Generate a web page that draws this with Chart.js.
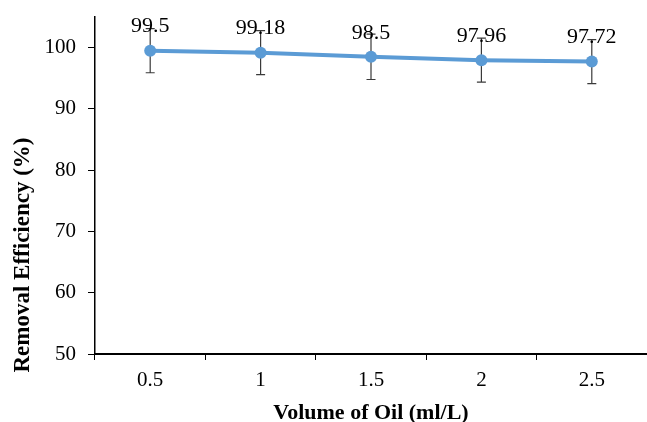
<!DOCTYPE html>
<html>
<head>
<meta charset="utf-8">
<script src="https://cdn.jsdelivr.net/npm/chart.js@4"></script>
<style>
    html, body { margin: 0; padding: 0; background: #fff; }
    #wrap { width: 647px; height: 422px; }
</style>
</head>
<body>
<div id="wrap"><canvas id="chart" width="647" height="422"></canvas></div>
<script>
const volumes = ['0.5', '1', '1.5', '2', '2.5'];
const efficiency = [99.5, 99.18, 98.5, 97.96, 97.72];
const errors = [3.6, 3.6, 3.7, 3.6, 3.6];
const yTicks = [50, 60, 70, 80, 90, 100];

const SERIF = "'Liberation Serif', 'Times New Roman', serif";

// Error bars, drawn under the line
const errorBars = {
    id: 'errorBars',
    beforeDatasetsDraw(chart) {
        const { ctx, scales: { x, y } } = chart;
        ctx.save();
        ctx.strokeStyle = '#3a3a3a';
        ctx.lineWidth = 1.2;
        efficiency.forEach((v, i) => {
            const px = x.getPixelForValue(i);
            const top = y.getPixelForValue(v + errors[i]);
            const bot = y.getPixelForValue(v - errors[i]);
            ctx.beginPath();
            ctx.moveTo(px, top); ctx.lineTo(px, bot);
            ctx.moveTo(px - 4.5, top); ctx.lineTo(px + 4.5, top);
            ctx.moveTo(px - 4.5, bot); ctx.lineTo(px + 4.5, bot);
            ctx.stroke();
        });
        ctx.restore();
    }
};

// Value labels above each point, plus the y title (sits low, as in the original)
const valueLabels = {
    id: 'valueLabels',
    afterDatasetsDraw(chart) {
        const { ctx } = chart;
        const meta = chart.getDatasetMeta(0);
        ctx.save();
        ctx.fillStyle = '#000';
        ctx.font = '22px ' + SERIF;
        ctx.textAlign = 'center';
        ctx.textBaseline = 'middle';
        meta.data.forEach((pt, i) => {
            ctx.fillText(String(efficiency[i]), pt.x, pt.y - 24);
        });

        ctx.translate(23, 255);
        ctx.rotate(-Math.PI / 2);
        ctx.font = 'bold 23px ' + SERIF;
        ctx.fillText('Removal Efficiency (%)', 0, 0);
        ctx.restore();
    }
};

new Chart(document.getElementById('chart'), {
    type: 'line',
    data: {
        labels: volumes,
        datasets: [{
            data: efficiency,
            borderColor: '#5B9BD5',
            backgroundColor: '#5B9BD5',
            borderWidth: 4,
            pointRadius: 6,
            pointBackgroundColor: '#5B9BD5',
            pointBorderWidth: 0,
            tension: 0
        }]
    },
    options: {
        responsive: false,
        animation: false,
        layout: { autoPadding: false, padding: { top: 17, right: 0, left: 0, bottom: 0 } },
        plugins: {
            legend: { display: false },
            tooltip: { enabled: false }
        },
        scales: {
            x: {
                offset: true,
                grid: { offset: true, drawOnChartArea: false, tickLength: 6, color: '#000', lineWidth: 1 },
                border: { color: '#000', width: 2 },
                ticks: { color: '#000', font: { family: SERIF, size: 21 }, padding: 8 },
                title: {
                    display: true,
                    text: 'Volume of Oil (ml/L)',
                    color: '#000',
                    font: { family: SERIF, size: 22, weight: 'bold', lineHeight: 1 },
                    padding: { top: 0, bottom: -2 }
                },
                afterFit(scale) {
                    scale.height = 68;
                    scale.paddingLeft = 0;
                    scale.paddingRight = 0;
                }
            },
            y: {
                min: 50,
                max: 105,
                grid: { drawOnChartArea: false, tickLength: 7, color: '#000', lineWidth: 1 },
                border: { color: '#000', width: 1.5 },
                afterBuildTicks(scale) { scale.ticks = yTicks.map(v => ({ value: v })); },
                ticks: { color: '#000', font: { family: SERIF, size: 21 }, padding: 12 },
                afterFit(scale) {
                    scale.width = 95;
                    scale.paddingTop = 0;
                    scale.paddingBottom = 0;
                }
            }
        }
    },
    plugins: [errorBars, valueLabels]
});
</script>
</body>
</html>
